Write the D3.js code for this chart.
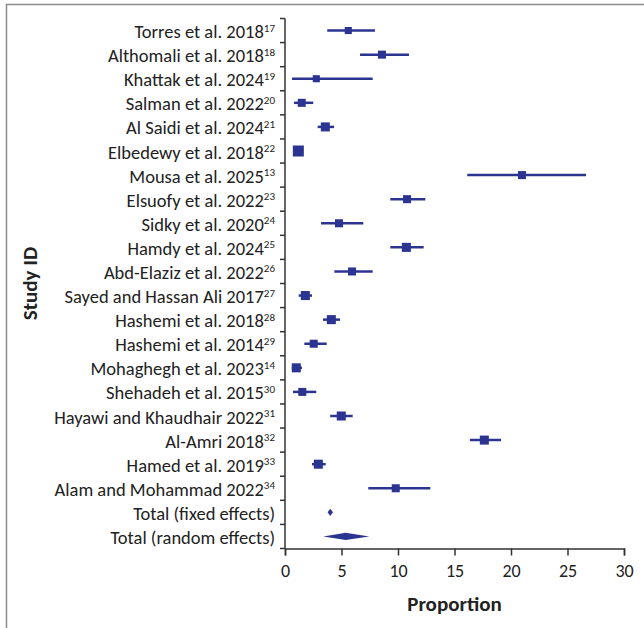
<!DOCTYPE html>
<html>
<head>
<meta charset="utf-8">
<script src="https://cdn.jsdelivr.net/npm/d3@7"></script>
<style>
  body { margin: 0; background: #fff; }
  text { font-family: Carlito, "Open Sans", sans-serif; fill: #222; }
</style>
</head>
<body>
<div id="chart"></div>
<script>
// study names and reference numbers
var studies = ["Torres et al. 2018", "Althomali et al. 2018", "Khattak et al. 2024", "Salman et al. 2022",
  "Al Saidi et al. 2024", "Elbedewy et al. 2018", "Mousa et al. 2025", "Elsuofy et al. 2022",
  "Sidky et al. 2020", "Hamdy et al. 2024", "Abd-Elaziz et al. 2022", "Sayed and Hassan Ali 2017",
  "Hashemi et al. 2018", "Hashemi et al. 2014", "Mohaghegh et al. 2023", "Shehadeh et al. 2015",
  "Hayawi and Khaudhair 2022", "Al-Amri 2018", "Hamed et al. 2019", "Alam and Mohammad 2022"];
var refs = ["17", "18", "19", "20", "21", "22", "13", "23", "24", "25", "26", "27", "28", "29", "14", "30", "31", "32", "33", "34"];

// proportion (%) with 95% CI
var proportion = [5.6, 8.58, 2.77, 1.48, 3.57, 1.18, 20.97, 10.8, 4.78, 10.74, 5.93, 1.8, 4.1, 2.54, 1.0, 1.53, 4.98, 17.64, 2.95, 9.8];
var lower = [3.74, 6.64, 0.62, 0.8, 2.89, 0.8, 16.13, 9.32, 3.19, 9.32, 4.37, 1.21, 3.36, 1.71, 0.6, 0.71, 4.0, 16.37, 2.39, 7.37];
var upper = [7.96, 10.97, 7.76, 2.5, 4.34, 1.6, 26.64, 12.42, 6.93, 12.27, 7.76, 2.39, 4.87, 3.69, 1.5, 2.77, 5.99, 19.12, 3.6, 12.86];
// study weights (%) -> marker size
var weight = [3.2, 4.1, 3.2, 4.1, 5.2, 7.7, 4.1, 4.1, 4.1, 5.2, 4.1, 5.2, 5.2, 4.1, 5.2, 4.1, 5.2, 5.2, 5.2, 4.1];

// pooled estimates
var totals = ["Total (fixed effects)", "Total (random effects)"];
var totalEst = [4.0, 5.37];
var totalLow = [3.77, 3.39];
var totalHigh = [4.25, 7.46];

var xTicks = [0, 5, 10, 15, 20, 25, 30];

var W = 644, H = 628;
var margin = {top: 18.5, right: 20, bottom: 79.5, left: 285};
var width = W - margin.left - margin.right,
    height = H - margin.top - margin.bottom;
var col = "#2b3491";
var font = "Carlito, 'Open Sans', sans-serif";

var svg = d3.select("#chart").append("svg")
    .attr("width", W)
    .attr("height", H);

// frame
svg.append("path")
    .attr("d", "M6.5,628 V4.5 H644")
    .attr("fill", "none")
    .attr("stroke", "#8a8a8a")
    .attr("stroke-width", 1.5);

var g = svg.append("g")
    .attr("transform", "translate(" + margin.left + "," + margin.top + ")");

var rows = studies.concat(totals);

var x = d3.scaleLinear().domain([0, 30]).range([0, width]);
var y = d3.scaleBand().domain(rows).range([0, height]);
var size = d3.scaleSqrt().domain([0, d3.max(weight)]).range([0, 11]);

// y axis: ticks between rows
g.append("line")
    .attr("x1", 0).attr("x2", 0)
    .attr("y1", 0).attr("y2", height)
    .attr("stroke", "#333").attr("stroke-width", 1.5);
g.selectAll(".ytick")
  .data(d3.range(rows.length + 1))
  .enter().append("line")
    .attr("class", "ytick")
    .attr("x1", -5).attr("x2", 0)
    .attr("y1", function(i) { return i * y.step(); })
    .attr("y2", function(i) { return i * y.step(); })
    .attr("stroke", "#333").attr("stroke-width", 1.5);

// row labels
var lab = g.selectAll(".lab")
  .data(rows)
  .enter().append("text")
    .attr("class", "lab")
    .attr("x", -10)
    .attr("y", function(d) { return y(d) + y.bandwidth() / 2 + 7.5; })
    .attr("text-anchor", "end")
    .style("font-size", "18.5px");
lab.append("tspan").text(function(d) { return d; });
lab.append("tspan")
    .attr("dy", -6.5)
    .style("font-size", "11px")
    .text(function(d, i) { return i < refs.length ? refs[i] : ""; });

// x axis
var xAxis = g.append("g")
    .attr("transform", "translate(0," + height + ")")
    .call(d3.axisBottom(x).tickValues(xTicks).tickSize(7).tickPadding(9));
xAxis.select(".domain").attr("stroke", "#333").attr("stroke-width", 1.5);
xAxis.selectAll(".tick line").attr("stroke", "#333").attr("stroke-width", 1.5);
xAxis.selectAll(".tick text")
    .style("font-family", font)
    .style("font-size", "18px")
    .attr("fill", "#222");

// axis titles
g.append("text")
    .attr("x", width / 2)
    .attr("y", height + 62)
    .attr("text-anchor", "middle")
    .style("font-size", "21px")
    .style("font-weight", "bold")
    .text("Proportion");
svg.append("text")
    .attr("transform", "translate(37," + (margin.top + height / 2) + ") rotate(-90)")
    .attr("text-anchor", "middle")
    .style("font-size", "21px")
    .style("font-weight", "bold")
    .text("Study ID");

// confidence intervals
g.selectAll(".ci")
  .data(studies)
  .enter().append("line")
    .attr("class", "ci")
    .attr("x1", function(d, i) { return x(lower[i]); })
    .attr("x2", function(d, i) { return x(upper[i]); })
    .attr("y1", function(d) { return y(d) + y.bandwidth() / 2; })
    .attr("y2", function(d) { return y(d) + y.bandwidth() / 2; })
    .attr("stroke", col)
    .attr("stroke-width", 2.5);

// study markers
g.selectAll(".pt")
  .data(studies)
  .enter().append("rect")
    .attr("class", "pt")
    .attr("x", function(d, i) { return x(proportion[i]) - size(weight[i]) / 2; })
    .attr("y", function(d, i) { return y(d) + y.bandwidth() / 2 - size(weight[i]) / 2; })
    .attr("width", function(d, i) { return size(weight[i]); })
    .attr("height", function(d, i) { return size(weight[i]); })
    .attr("fill", col);

// pooled diamonds
g.selectAll(".dia")
  .data(totals)
  .enter().append("path")
    .attr("class", "dia")
    .attr("d", function(d, i) {
      var cy = y(d) + y.bandwidth() / 2, h = 3.6;
      return "M" + x(totalLow[i]) + "," + cy +
             "L" + x(totalEst[i]) + "," + (cy - h) +
             "L" + x(totalHigh[i]) + "," + cy +
             "L" + x(totalEst[i]) + "," + (cy + h) + "Z";
    })
    .attr("fill", col);
</script>
</body>
</html>
